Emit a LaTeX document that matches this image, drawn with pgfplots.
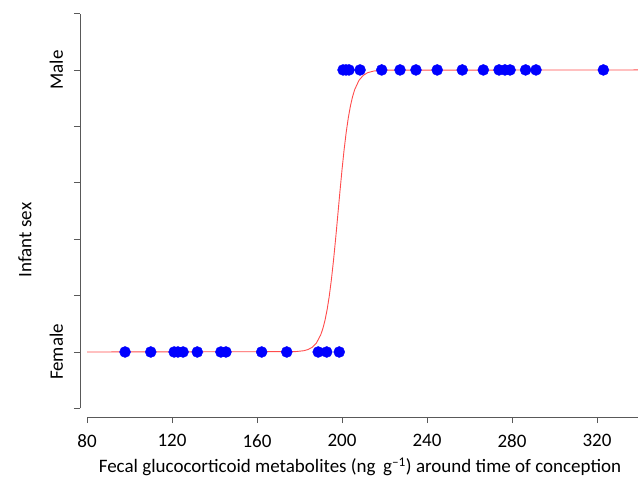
\documentclass[border=0pt]{standalone}
\usepackage{fontspec}
\setmainfont{Carlito}
\usepackage{pgfplots}
\pgfplotsset{compat=1.18}
\definecolor{fitred}{rgb}{1,0.3,0.3}
\begin{document}
\begin{tikzpicture}
\useasboundingbox (-80pt,-60pt) rectangle (558pt,417pt);
\begin{axis}[
  scale only axis,
  width=558pt, height=417pt,
  xmin=76.7, xmax=339.3,
  ymin=-0.2305, ymax=1.248,
  axis lines*=left,
  axis line style={draw=none},
  tick align=outside,
  major tick length=6pt,
  tick style={black!65, line width=0.7pt},
  xtick={80,120,...,320},
  ytick={-0.2,0,0.2,0.4,0.6,0.8,1.0,1.2},
  yticklabels={{},Female,{},{},{},{},Male,{}},
  yticklabel style={rotate=90, anchor=south, font=\fontsize{19}{22}\selectfont},
  xticklabel style={font=\fontsize{19}{22}\selectfont},
  xticklabel shift=8pt,
  yticklabel shift=7.5pt,
  /pgf/number format/assume math mode=true,
  clip=false,
]
\draw[black!65, line width=0.7pt] (axis cs:80,-0.2305) -- (axis cs:339.3,-0.2305);
\draw[black!65, line width=0.7pt] (axis cs:76.7,-0.2) -- (axis cs:76.7,1.2);
\addplot[fitred, line width=0.9pt] coordinates {
(80,0) (178,0.0012) (182,0.0045) (184,0.0087) (186,0.0168) (188,0.0323)
(190,0.0610) (191,0.0832) (192,0.1124) (193,0.1502) (194,0.1978)
(195,0.2561) (196,0.3245) (197,0.4013) (198,0.4833) (199,0.5663)
(200,0.6457) (201,0.7177) (202,0.7802) (203,0.8320) (204,0.8736)
(205,0.9061) (206,0.9309) (208,0.9633) (210,0.9808) (212,0.9901)
(215,0.9963) (220,0.9993) (340,1)
};
\addplot[only marks, mark=*, mark size=5.5pt, color=blue, mark options={fill=blue, draw=blue}] coordinates {
(97.9,0) (110.0,0) (121.0,0) (122.8,0) (125.2,0) (131.9,0) (143.0,0) (145.4,0)
(162.2,0) (174.0,0) (188.8,0) (192.8,0) (198.7,0)
(200.5,1) (201.9,1) (203.3,1) (208.5,1) (218.7,1) (227.3,1) (234.8,1) (244.8,1)
(256.6,1) (266.5,1) (273.9,1) (276.7,1) (279.1,1) (286.4,1) (291.3,1) (323.0,1)
};
\end{axis}
\node[rotate=90, font=\fontsize{19}{22}\selectfont] at (-55pt,177pt) {Infant sex};
\node[font=\fontsize{19}{22}\selectfont] at (280pt,-50pt) {Fecal glucocorticoid metabolites (ng\, g\textsuperscript{\textendash1}) around time of conception};
\end{tikzpicture}
\end{document}
